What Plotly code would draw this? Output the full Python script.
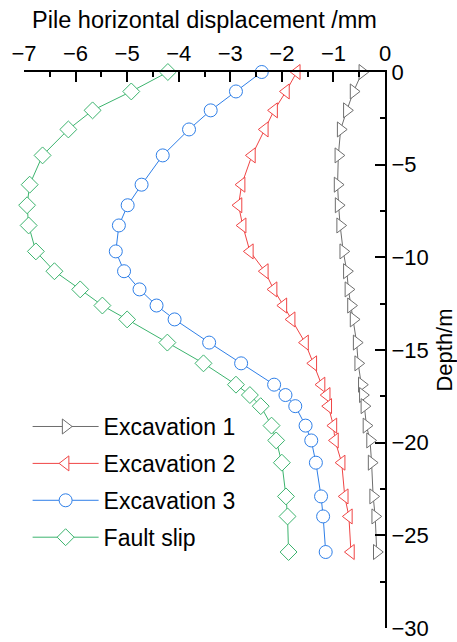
import plotly.graph_objects as go

depth = [0, -1.05, -2.07, -3.1, -4.5, -6.08, -7.19, -8.28, -9.68, -10.75, -11.73, -12.6,
         -13.35, -14.6, -15.72, -16.87, -17.43, -18.03, -19.08, -19.88, -21.08, -22.9, -23.98, -25.9]

exc1 = [-0.44, -0.61, -0.74, -0.86, -0.905, -0.92, -0.90, -0.87, -0.81, -0.74, -0.71, -0.66,
        -0.61, -0.55, -0.52, -0.45, -0.43, -0.40, -0.36, -0.29, -0.26, -0.23, -0.19, -0.16]
exc2 = [-1.71, -1.92, -2.15, -2.33, -2.58, -2.78, -2.84, -2.76, -2.62, -2.33, -2.16, -1.97,
        -1.81, -1.55, -1.39, -1.23, -1.13, -1.10, -1.00, -0.97, -0.84, -0.78, -0.70, -0.66]
exc3 = [-2.39, -2.89, -3.38, -3.80, -4.31, -4.72, -4.99, -5.16, -5.22, -5.06, -4.76, -4.43,
        -4.08, -3.41, -2.79, -2.15, -1.93, -1.74, -1.54, -1.43, -1.34, -1.24, -1.20, -1.15]
fault = [-4.21, -4.92, -5.67, -6.14, -6.64, -6.89, -6.94, -6.91, -6.77, -6.41, -5.91, -5.48,
         -5.00, -4.22, -3.52, -2.89, -2.62, -2.41, -2.20, -2.11, -2.00, -1.92, -1.89, -1.87]

series = [
    ("Excavation 1", exc1, "#6e6e6e", "triangle-right"),
    ("Excavation 2", exc2, "#f04545", "triangle-left"),
    ("Excavation 3", exc3, "#2f7fe8", "circle"),
    ("Fault slip", fault, "#3cb46e", "diamond"),
]

FONT = "Liberation Sans, Arial, sans-serif"

fig = go.Figure()
for i, (name, xs, col, sym) in enumerate(series):
    fig.add_trace(go.Scatter(
        x=xs, y=depth, name=name, mode="lines+markers",
        line=dict(color=col, width=1),
        marker=dict(symbol=sym, size=13, color="white", line=dict(color=col, width=1)),
        cliponaxis=False, legendgroup=f"g{i}",
    ))

fig.update_layout(
    width=457, height=642,
    margin=dict(l=24, r=72, t=72, b=14, autoexpand=False),
    paper_bgcolor="white", plot_bgcolor="white",
    font=dict(family=FONT, size=22, color="black"),
    showlegend=True,
    legend=dict(x=0.01, y=0.401, xanchor="left", yanchor="top",
                bgcolor="rgba(0,0,0,0)", font=dict(size=23),
                traceorder="grouped", tracegroupgap=4, itemwidth=66),
    xaxis=dict(side="top", range=[-7, 0], dtick=1, tick0=0, automargin=False,
               showline=True, linecolor="black", linewidth=2,
               ticks="inside", ticklen=10, tickwidth=2, tickcolor="black",
               minor=dict(dtick=0.5, ticks="inside", ticklen=5, tickwidth=2, tickcolor="black"),
               showgrid=False, zeroline=False, ticklabeloverflow="allow",
               title=dict(text="Pile horizontal displacement /mm", font=dict(size=23.5), standoff=6),
               tickfont=dict(size=22)),
    yaxis=dict(side="right", range=[-30, 0], dtick=5, tick0=0, automargin=False,
               showline=True, linecolor="black", linewidth=2,
               ticks="inside", ticklen=10, tickwidth=2, tickcolor="black",
               minor=dict(dtick=2.5, ticks="inside", ticklen=5, tickwidth=2, tickcolor="black"),
               showgrid=False, zeroline=False, ticklabeloverflow="allow",
               title=dict(text="Depth/m", font=dict(size=22), standoff=12),
               tickfont=dict(size=22)),
)

fig.write_html("out.html")
